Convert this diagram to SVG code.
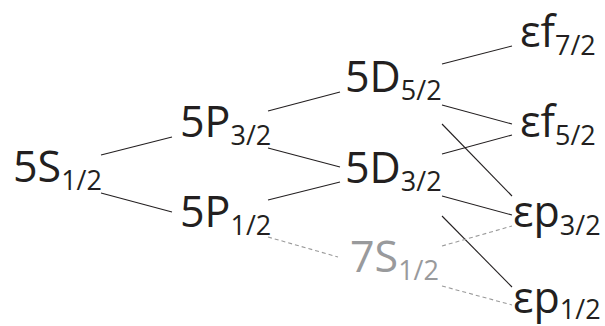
<svg xmlns="http://www.w3.org/2000/svg" width="605" height="326" viewBox="0 0 605 326">
<style>
text{font-family:"Open Sans","Noto Sans",sans-serif;font-size:43px;fill:#231f20}
.s{font-size:27px}
.g{fill:#999a9c}
.c line{stroke:#231f20;stroke-width:1.1}
.c line.d{stroke:#9a9a9a;stroke-dasharray:4 3}
</style>
<rect width="605" height="326" fill="#fff"/>
<g class="c" id="connectors">
<line x1="101" y1="155" x2="172" y2="137"/>
<line x1="101" y1="193" x2="172" y2="212"/>
<line x1="268" y1="111" x2="340" y2="92"/>
<line x1="268" y1="148" x2="340" y2="167"/>
<line x1="268" y1="200" x2="340" y2="182"/>
<line class="d" x1="268" y1="237" x2="338" y2="257"/>
<line x1="442" y1="64" x2="512" y2="46"/>
<line x1="442" y1="105" x2="512" y2="124"/>
<line x1="442" y1="124" x2="512" y2="196"/>
<line x1="442" y1="154" x2="512" y2="135"/>
<line x1="442" y1="196" x2="512" y2="215"/>
<line x1="442" y1="216" x2="512" y2="287"/>
<line class="d" x1="442" y1="246" x2="512" y2="226"/>
<line class="d" x1="442" y1="286" x2="512" y2="305"/>
</g>
<g id="n5S12"><text x="13" y="182">5S<tspan class="s" dy="8">1/2</tspan></text></g>
<g id="n5P32"><text x="180" y="137">5P<tspan class="s" dy="8">3/2</tspan></text></g>
<g id="n5P12"><text x="180" y="227">5P<tspan class="s" dy="8">1/2</tspan></text></g>
<g id="n5D52"><text x="345" y="92">5D<tspan class="s" dy="8">5/2</tspan></text></g>
<g id="n5D32"><text x="345" y="183">5D<tspan class="s" dy="8">3/2</tspan></text></g>
<g id="n7S12"><text class="g" x="350" y="272">7S<tspan class="s" dy="8">1/2</tspan></text></g>
<g id="nf72"><text x="520" y="47">εf<tspan class="s" dy="8">7/2</tspan></text></g>
<g id="nf52"><text x="520" y="137">εf<tspan class="s" dy="8">5/2</tspan></text></g>
<g id="np32"><text x="513" y="227">εp<tspan class="s" dy="8">3/2</tspan></text></g>
<g id="np12"><text x="513" y="313">εp<tspan class="s" dy="6">1/2</tspan></text></g>
</svg>
